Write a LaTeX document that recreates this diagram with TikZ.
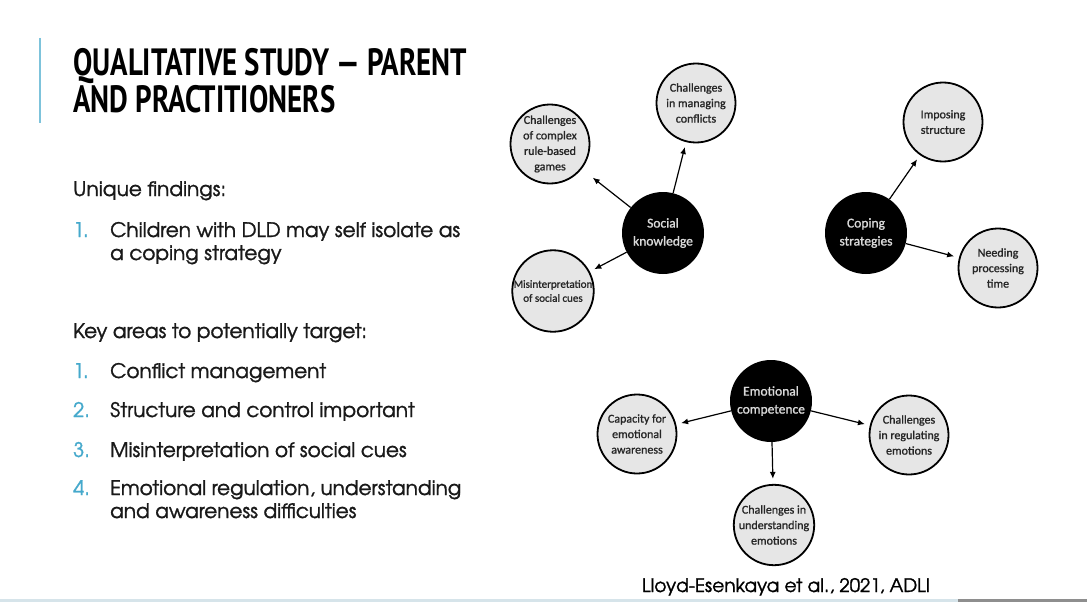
\documentclass[tikz,border=0pt]{standalone}
\usepackage{fontspec}
\usetikzlibrary{arrows.meta}
\setmainfont{Carlito}
\newfontfamily\gothic[FakeBold=1.3]{texgyreadventor-regular.otf}
\newfontfamily\titlefont[FakeStretch=0.76]{PT Sans}
\newfontfamily\bubblefont[FakeBold=1.2]{Carlito}
\definecolor{accent}{HTML}{45A9CC}
\definecolor{bartint}{HTML}{D6E4EA}
\definecolor{bargray}{HTML}{8E8E8E}
\definecolor{bulb}{HTML}{E6E6E6}
\begin{document}
\begin{tikzpicture}[x=1pt,y=-1pt,
	hub/.style={circle,fill=black,minimum size=82pt,inner sep=0pt,align=center,text=white!85!black,font=\bubblefont\fontsize{13.5}{18}\selectfont},
	leaf/.style={circle,fill=bulb,draw=black,line width=1.8pt,minimum size=79pt,inner sep=0pt,align=center,text=black!85,font=\bubblefont\fontsize{12}{15.5}\selectfont},
	link/.style={-{Latex[length=7pt,width=6pt]},line width=1.2pt,shorten >=5pt},
	body/.style={anchor=base west,inner sep=0pt,font=\gothic\fontsize{20}{23}\selectfont,text=black!90},
	num/.style={body,text=accent},
	head/.style={anchor=base west,inner sep=0pt,font=\titlefont\bfseries\fontsize{38}{37}\selectfont,text=black}]
	\fill[white] (0,0) rectangle (1087,602);
	\useasboundingbox (0,0) rectangle (1087,602);
	% slide frame
	\draw[accent!70,line width=2pt] (40,38) -- (40,123);
	\fill[bartint] (0,599) rectangle (958,602);
	\fill[bargray] (958,599) rectangle (1087,602);
	\node[head] (title1) at (73,75) {QUALITATIVE STUDY — PARENT};
	\node[head] (title2) at (73,112) {AND PRACTITIONERS};
	% left column
	\node[body] (unique) at (73,196) {Unique findings:};
	\node[num] (fnum) at (73,237) {1.};
	\node[body] (find1) at (110,237) {Children with DLD may self isolate as};
	\node[body] (find1b) at (110,260) {a coping strategy};
	\node[body] (key) at (73,338) {Key areas to potentially target:};
	\foreach \n/\y in {1/378,2/417,3/457,4/495}
		\node[num] (knum\n) at (73,\y) {\n.};
	\node[body] (key1) at (110,378) {Conflict management};
	\node[body] (key2) at (110,417) {Structure and control important};
	\node[body] (key3) at (110,457) {Misinterpretation of social cues};
	\node[body] (key4) at (110,495) {Emotional regulation, understanding};
	\node[body] (key4b) at (110,518) {and awareness difficulties};
	% social knowledge
	\node[hub] (social) at (663,233) {Social\\knowledge};
	\node[leaf] (games) at (550,144) {Challenges\\of complex\\rule-based\\games};
	\node[leaf] (conflicts) at (696,103) {Challenges\\in managing\\conflicts};
	\node[leaf,font=\bubblefont\fontsize{11}{14}\selectfont] (cues) at (553,291) {Misinterpretation\\of social cues};
	\draw[link,shorten >=14pt] (social) -- (games);
	\draw[link] (social) -- (conflicts);
	\draw[link] (social) -- (cues);
	% coping strategies
	\node[hub] (coping) at (866,233) {Coping\\strategies};
	\node[leaf] (imposing) at (943,122) {Imposing\\structure};
	\node[leaf] (needing) at (998,268) {Needing\\processing\\time};
	\draw[link] (coping) -- (imposing);
	\draw[link] (coping) -- (needing);
	% emotional competence
	\node[hub] (emotional) at (771,401) {Emotional\\competence};
	\node[leaf] (capacity) at (637,434) {Capacity for\\emotional\\awareness};
	\node[leaf] (regulating) at (909,435) {Challenges\\in regulating\\emotions};
	\node[leaf] (understanding) at (774,525) {Challenges in\\understanding\\emotions};
	\draw[link] (emotional) -- (capacity);
	\draw[link] (emotional) -- (regulating);
	\draw[link] (emotional) -- (understanding);
	\node[anchor=base,inner sep=0pt,font=\gothic\fontsize{18.6}{22}\selectfont,text=black] (cite) at (786,592) {Lloyd-Esenkaya et al., 2021, ADLI};
\end{tikzpicture}
\end{document}
